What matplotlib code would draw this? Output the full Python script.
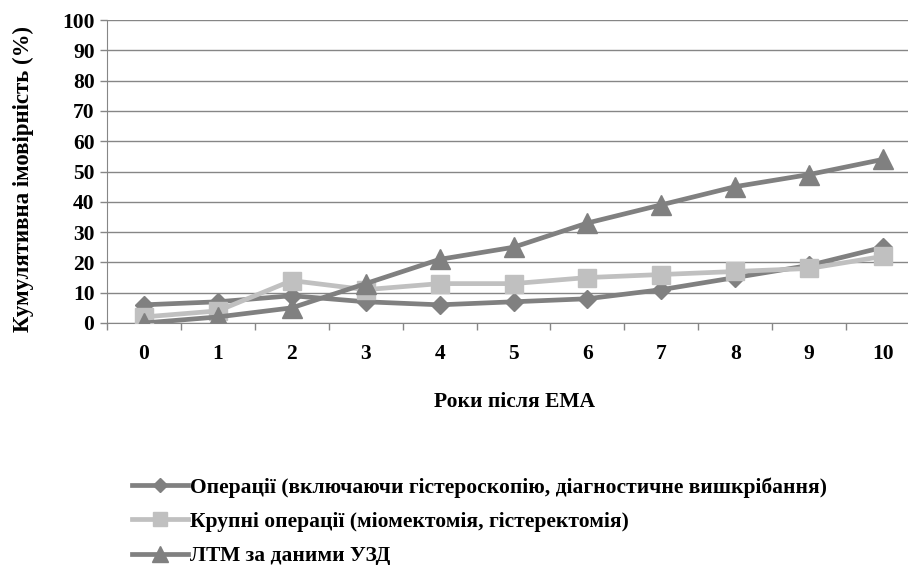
import matplotlib
matplotlib.use("Agg")
import matplotlib.pyplot as plt
import numpy as np

years = ["0", "1", "2", "3", "4", "5", "6", "7", "8", "9", "10"]
ops_all = [6, 7, 9, 7, 6, 7, 8, 11, 15, 19, 25]
ops_major = [2, 4, 14, 11, 13, 13, 15, 16, 17, 18, 22]
ltm_usd = [0, 2, 5, 13, 21, 25, 33, 39, 45, 49, 54]
labels = ["Операції (включаючи гістероскопію, діагностичне вишкрібання)",
          "Крупні операції (міомектомія, гістеректомія)",
          "ЛТМ за даними УЗД"]
yticks = list(range(0, 101, 10))

plt.rcParams['font.family'] = ['Liberation Serif', 'DejaVu Serif']
plt.rcParams['font.weight'] = 'bold'
FS = 15.5

W, H = 908, 565
fig = plt.figure(figsize=(W/100, H/100), dpi=100)
L, R, T, B = 107, 920, 20, 323
ax = fig.add_axes([L/W, 1-B/H, (R-L)/W, (B-T)/H])

x = np.arange(len(years))
ax.plot(x, ops_all, color='#808080', lw=3.4, marker='D', ms=9, label=labels[0], zorder=3)
ax.plot(x, ops_major, color='#c0c0c0', lw=3.4, marker='s', ms=13, label=labels[1], zorder=4)
ax.plot(x, ltm_usd, color='#808080', lw=3.4, marker='^', ms=14, label=labels[2], zorder=5)

ax.set_xlim(-0.5, len(years) - 0.5)
ax.set_ylim(0, 100)
ax.set_yticks(yticks)
ax.set_yticklabels([str(v) for v in yticks], fontsize=FS, fontweight='bold')
ax.set_xticks(x)
ax.set_xticklabels(years, fontsize=FS, fontweight='bold')
ax.set_xticks(np.arange(-0.5, len(years), 1), minor=True)
ax.tick_params(axis='x', which='major', length=0, pad=15)
ax.tick_params(axis='x', which='minor', length=5, width=1, color='#868686', direction='out')
ax.tick_params(axis='y', length=5, width=1, color='#868686', direction='out', pad=4)

ax.grid(axis='y', color='#868686', lw=1)
ax.set_axisbelow(True)
for s in ['top', 'right']:
    ax.spines[s].set_visible(False)
ax.spines['left'].set_color('#868686')
ax.spines['bottom'].set_color('#868686')

fig.text(515/W, 1-402/H, "Роки після ЕМА", fontsize=FS, fontweight='bold',
         ha='center', va='center')
fig.text(23/W, 1-179/H, "Кумулятивна імовірність (%)", fontsize=16.5, fontweight='bold',
         ha='center', va='center', rotation=90)

leg = fig.legend(loc='upper left', bbox_to_anchor=(132/W, 1-477/H), frameon=False,
                 handlelength=2.6, handletextpad=0.1, labelspacing=0.66,
                 borderpad=0, borderaxespad=0,
                 prop={'weight': 'bold', 'size': FS})
for ln in leg.get_lines():
    ln.set_markersize(ln.get_markersize() * 0.8)

fig.savefig("out.png", dpi=100)
